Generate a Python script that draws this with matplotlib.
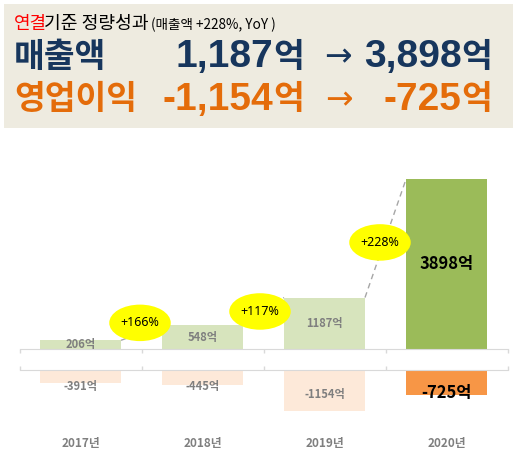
import matplotlib
matplotlib.use("Agg")
import matplotlib.pyplot as plt
from matplotlib.patches import Rectangle, Ellipse
import matplotlib.transforms as mtransforms

# ---------------- data ----------------
years = ['2017년', '2018년', '2019년', '2020년']
revenue = [206, 548, 1187, 3898]
op_profit = [-391, -445, -1154, -725]
growth_labels = ['+166%', '+117%', '+228%']

# ---------------- styles ----------------
KR = ['Noto Sans CJK KR', 'DejaVu Sans']
NUM = ['Liberation Sans', 'Noto Sans CJK KR']
NAVY = '#17365D'
ORANGE = '#E46C0A'
GRAY = '#7F7F7F'
rev_colors = ['#D7E4BD', '#D7E4BD', '#D7E4BD', '#9BBB59']
op_colors = ['#FDE9D9', '#FDE9D9', '#FDE9D9', '#F79646']

W, H = 518, 457
fig = plt.figure(figsize=(W / 100, H / 100), dpi=100)
fig.patch.set_facecolor('white')


def fx(x):
    return x / W


def fy(y):
    return 1 - y / H


def pt(px):
    return px * 0.72


# ---------------- header box ----------------
fig.add_artist(Rectangle((fx(4), fy(128)), fx(513) - fx(4), fy(4) - fy(128),
                         transform=fig.transFigure, facecolor='#EEEBE0',
                         edgecolor='none', zorder=0))

fig.text(fx(13.5), fy(24), '연결', color='#FF0000', fontsize=pt(18),
         family=KR, va='center', ha='left')
fig.text(fx(44.5), fy(24), '기준 정량성과', color='black', fontsize=pt(18.2),
         family=KR, va='center', ha='left')
fig.text(fx(151), fy(25), '(매출액 +228%, YoY )', color='black', fontsize=pt(13.6),
         family=KR, va='center', ha='left')

# line 2 : revenue
y2 = 57
big_kr = pt(33.5)
big_num = pt(39)
fig.text(fx(14), fy(y2), '매출액', color=NAVY, fontsize=big_kr, family=KR,
         weight='heavy', va='center', ha='left')
fig.text(fx(273.5), fy(y2), f'{revenue[2]:,}', color=NAVY, fontsize=big_num,
         family=NUM, weight='bold', va='center', ha='right')
fig.text(fx(273), fy(y2), '억', color=NAVY, fontsize=big_kr, family=KR,
         weight='heavy', va='center', ha='left')
fig.text(fx(337.5), fy(y2), '→', color=NAVY, fontsize=pt(33), family='DejaVu Sans',
         va='center', ha='center')
fig.text(fx(461.5), fy(y2), f'{revenue[3]:,}', color=NAVY, fontsize=big_num,
         family=NUM, weight='bold', va='center', ha='right')
fig.text(fx(461), fy(y2), '억', color=NAVY, fontsize=big_kr, family=KR,
         weight='heavy', va='center', ha='left')

# line 3 : operating profit
y3 = 100
fig.text(fx(14), fy(y3), '영업이익', color=ORANGE, fontsize=big_kr, family=KR,
         weight='heavy', va='center', ha='left')
fig.text(fx(273.5), fy(y3), f'{op_profit[2]:,}', color=ORANGE, fontsize=big_num,
         family=NUM, weight='bold', va='center', ha='right')
fig.text(fx(273), fy(y3), '억', color=ORANGE, fontsize=big_kr, family=KR,
         weight='heavy', va='center', ha='left')
fig.text(fx(338.5), fy(y3), '→', color=ORANGE, fontsize=pt(33), family='DejaVu Sans',
         va='center', ha='center')
fig.text(fx(461.5), fy(y3), f'{op_profit[3]:,}', color=ORANGE, fontsize=big_num,
         family=NUM, weight='bold', va='center', ha='right')
fig.text(fx(461), fy(y3), '억', color=ORANGE, fontsize=big_kr, family=KR,
         weight='heavy', va='center', ha='left')

# ---------------- chart axes ----------------
left, right = 19.5, 507.5
top1, base1 = 175, 349.3
base2, bot2 = 369.5, 430
ax1 = fig.add_axes([fx(left), fy(base1), (right - left) / W, (base1 - top1) / H])
ax2 = fig.add_axes([fx(left), fy(bot2), (right - left) / W, (bot2 - base2) / H])

x = list(range(len(years)))
bw = 0.664
ymax1 = 3997
ymin2 = -1690

for ax in (ax1, ax2):
    ax.set_facecolor('none')
    ax.set_xlim(-0.5, len(years) - 0.5)
    ax.set_yticks([])
    ax.set_xticks([i - 0.5 for i in range(len(years) + 1)])
    ax.set_xticklabels([])
    ax.tick_params(axis='x', direction='out', length=3, width=1, color='#D9D9D9')
    for s in ax.spines.values():
        s.set_visible(False)

ax1.set_ylim(0, ymax1)
ax1.spines['bottom'].set_visible(True)
ax1.spines['bottom'].set_color('#D9D9D9')
ax2.set_ylim(ymin2, 0)
ax2.xaxis.tick_top()
ax2.tick_params(axis='x', direction='out', length=3, width=1, color='#D9D9D9')
ax2.spines['top'].set_visible(True)
ax2.spines['top'].set_color('#D9D9D9')

ax1.bar(x, revenue, width=bw, color=rev_colors, zorder=2)
ax2.bar(x, op_profit, width=bw, color=op_colors, zorder=2)

# value labels
for i, v in enumerate(revenue):
    last = i == len(revenue) - 1
    ax1.text(i, v / 2, f'{v}억', ha='center', va='center', family=KR,
             weight='bold', color='black' if last else GRAY,
             fontsize=pt(16.5) if last else pt(11.2), zorder=4)

label_dy = [10, 9, 4, 11]  # px below bar centre
for i, v in enumerate(op_profit):
    last = i == len(op_profit) - 1
    off = mtransforms.offset_copy(ax2.transData, fig=fig, x=0, y=-label_dy[i], units='dots')
    ax2.text(i, v / 2, f'{v}억', ha='center', va='center', family=KR,
             weight='bold', color='black' if last else GRAY,
             fontsize=pt(16.5) if last else pt(11.2), transform=off, zorder=4)

# connectors + growth ellipses
ppu = (base1 - top1) / ymax1        # px per data unit
ppx = (right - left) / len(years)   # px per category
ell_dx = [-1.5, -3.5, -5.5]          # px
ell_dy = [10, 0, -4]                 # px upward
for i, lab in enumerate(growth_labels):
    x0, x1 = i + bw / 2, i + 1 - bw / 2
    y0, y1 = revenue[i], revenue[i + 1]
    ax1.plot([x0, x1], [y0, y1], ls=(0, (4, 3)), color='#A6A6A6', lw=1,
             clip_on=False, zorder=1)
    cx = (x0 + x1) / 2 + ell_dx[i] / ppx
    cy = (y0 + y1) / 2 + ell_dy[i] / ppu
    ax1.add_patch(Ellipse((cx, cy), 61.5 / ppx, 36.5 / ppu, facecolor='#FFFF00',
                          edgecolor='none', clip_on=False, zorder=3))
    ax1.text(cx, cy, lab, ha='center', va='center', fontsize=pt(12.5),
             family='Noto Sans', color='black', zorder=4)

# category labels
tr = mtransforms.blended_transform_factory(ax2.transData, fig.transFigure)
for i, yr in enumerate(years):
    fig.text(i, fy(443), yr, transform=tr, ha='center', va='center', family=KR,
             weight='bold', color=GRAY, fontsize=pt(11.8))

fig.savefig('out.png', dpi=100)
